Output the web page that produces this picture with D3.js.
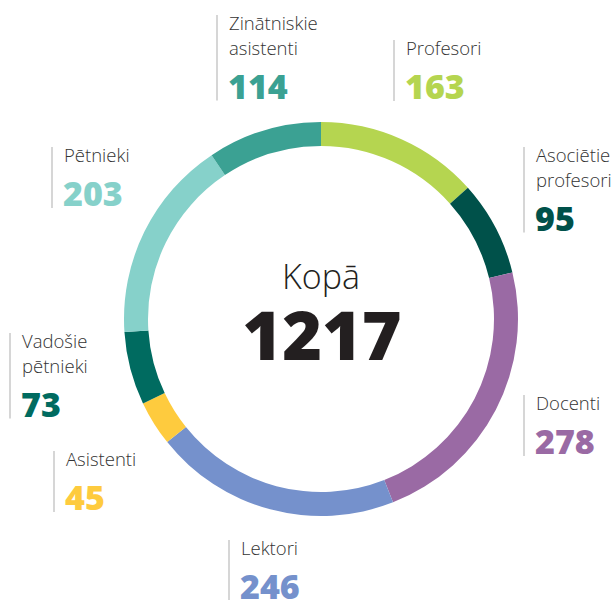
<!DOCTYPE html>
<html>
<head>
<meta charset="utf-8">
<script src="https://cdn.jsdelivr.net/npm/d3@7"></script>
<style>
  html, body { margin: 0; padding: 0; background: #fff; }
  svg { display: block; }
</style>
</head>
<body>
<div id="chart"></div>
<script>
// ---- data ----
const categories = ['Profesori', 'Asociētie profesori', 'Docenti', 'Lektori', 'Asistenti', 'Vadošie pētnieki', 'Pētnieki', 'Zinātniskie asistenti']
const labelLines = [['Profesori'], ['Asociētie', 'profesori'], ['Docenti'], ['Lektori'], ['Asistenti'], ['Vadošie', 'pētnieki'], ['Pētnieki'], ['Zinātniskie', 'asistenti']]
const values = [163, 95, 278, 246, 45, 73, 203, 114]
const totalLabel = 'Kopā'

// ---- styles / layout ----
const colors = ['#b5d550', '#00514a', '#9a6aa4', '#7591cc', '#fecb3e', '#006b60', '#86d1ca', '#3ba193']
// label anchor (x of rule line, y of first baseline)
const labelPos = [
  { x: 394, y: 55 },
  { x: 524, y: 162 },
  { x: 524, y: 410 },
  { x: 229, y: 555 },
  { x: 54, y: 466 },
  { x: 10, y: 348 },
  { x: 52, y: 162 },
  { x: 217, y: 30 }
]

const width = 616, height = 600
const cx = 321, cy = 319
const outerR = 197, innerR = 173
const font = '"Open Sans", "Noto Sans", sans-serif'

const svg = d3.select('#chart').append('svg')
  .attr('width', width).attr('height', height)

const items = categories.map((c, i) => ({ name: c, lines: labelLines[i], value: values[i], color: colors[i], pos: labelPos[i] }))

const pie = d3.pie().value(d => d.value).sort(null)
const arc = d3.arc().innerRadius(innerR).outerRadius(outerR)

svg.append('g')
  .attr('transform', `translate(${cx},${cy})`)
  .selectAll('path')
  .data(pie(items))
  .join('path')
  .attr('d', arc)
  .attr('fill', d => d.data.color)

// Center total
svg.append('text')
  .attr('x', cx).attr('y', 289)
  .attr('text-anchor', 'middle')
  .attr('font-family', font).attr('font-weight', 300)
  .attr('font-size', '34px').attr('fill', '#231f20')
  .text(totalLabel)

svg.append('text')
  .attr('x', cx + 1).attr('y', 360)
  .attr('text-anchor', 'middle')
  .attr('font-family', font).attr('font-weight', 800)
  .attr('font-size', '68px').attr('fill', '#231f20')
  .text(d3.sum(values))

// Labels
const lab = svg.append('g').selectAll('g')
  .data(items)
  .join('g')
  .attr('transform', d => `translate(${d.pos.x},${d.pos.y})`)

const lineH = 24.5
lab.append('line')
  .attr('x1', 0).attr('x2', 0)
  .attr('y1', -15)
  .attr('y2', d => (d.lines.length - 1) * lineH + 46)
  .attr('stroke', '#c8c8c8').attr('stroke-width', 1.5)

lab.each(function (d) {
  const g = d3.select(this)
  d.lines.forEach((t, i) => {
    g.append('text')
      .attr('x', 12).attr('y', i * lineH)
      .attr('font-family', font).attr('font-weight', 300)
      .attr('font-size', '18.5px').attr('fill', '#333')
      .text(t)
  })
  g.append('text')
    .attr('x', 11).attr('y', (d.lines.length - 1) * lineH + 44)
    .attr('font-family', font).attr('font-weight', 800)
    .attr('font-size', '34px').attr('fill', d.color)
    .text(d.value)
})
</script>
</body>
</html>
